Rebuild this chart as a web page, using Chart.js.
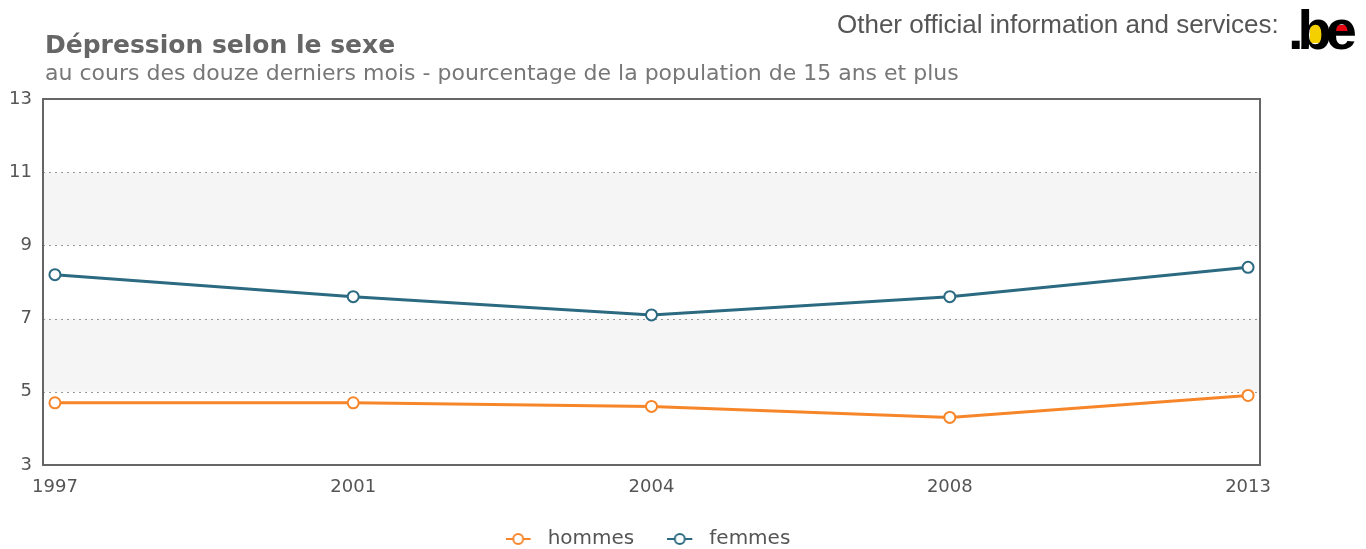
<!DOCTYPE html>
<html>
<head>
<meta charset="utf-8">
<script src="https://cdn.jsdelivr.net/npm/chart.js@4"></script>
<style>
  body { margin: 0; background: #fff; }
  #wrap { position: relative; width: 1366px; height: 549px; overflow: hidden; }
  #chart { position: absolute; left: 0; top: 0; }
  .title { position: absolute; left: 45px; top: 30px; font: bold 25px "DejaVu Sans", Verdana, sans-serif; color: #666; }
  .subtitle { position: absolute; left: 45px; top: 60px; font: 22px "DejaVu Sans", Verdana, sans-serif; color: #777; }
  .other { position: absolute; left: 837px; top: 9px; font: 26px "Liberation Sans", Arial, sans-serif; color: #555; }
  .logo { position: absolute; z-index: 1; left: 1288px; top: -3px; font: bold 56px "Liberation Sans", Arial, sans-serif; color: #000; letter-spacing: -6px; line-height: normal; }
  .logo .y { position: absolute; left: 22px; top: 27px; width: 13px; height: 19px; background: #f5d000; z-index: -1; }
  .logo .r { position: absolute; left: 46px; top: 28px; width: 14px; height: 7px; background: #e30613; z-index: -1; }
</style>
</head>
<body>
<div id="wrap">
  <canvas id="chart" width="1366" height="549"></canvas>
  <div class="title">Dépression selon le sexe</div>
  <div class="subtitle">au cours des douze derniers mois - pourcentage de la population de 15 ans et plus</div>
  <div class="other">Other official information and services:</div>
  <div class="logo"><span class="y"></span><span class="r"></span>.be</div>
</div>
<script>
const years = ['1997', '2001', '2004', '2008', '2013'];
const hommes = [4.7, 4.7, 4.6, 4.3, 4.9];
const femmes = [8.2, 7.6, 7.1, 7.6, 8.4];
const yTicks = [3, 5, 7, 9, 11, 13];
const bands = [[5, 7], [9, 11]];

const orange = '#f7862a';
const teal = '#2b6a80';

// line + circle symbol for the legend, drawn on the left 25px of a 32px box
function legendIcon(color) {
    const c = document.createElement('canvas');
    c.width = 32; c.height = 14;
    const ctx = c.getContext('2d');
    ctx.strokeStyle = color;
    ctx.lineWidth = 2;
    ctx.beginPath();
    ctx.moveTo(0, 7); ctx.lineTo(25, 7);
    ctx.stroke();
    ctx.fillStyle = '#fff';
    ctx.beginPath();
    ctx.arc(12.5, 7, 5, 0, Math.PI * 2);
    ctx.fill();
    ctx.stroke();
    return c;
}

const bgPlugin = {
    id: 'bg',
    beforeDatasetsDraw(chart) {
        const { ctx, chartArea, scales } = chart;
        ctx.save();
        ctx.fillStyle = '#f5f5f5';
        bands.forEach(b => {
            const top = scales.y.getPixelForValue(b[1]);
            const bottom = scales.y.getPixelForValue(b[0]);
            ctx.fillRect(chartArea.left, top, chartArea.right - chartArea.left, bottom - top);
        });
        // dotted grid lines
        ctx.strokeStyle = '#999';
        ctx.lineWidth = 1;
        ctx.setLineDash([2, 4]);
        yTicks.slice(1, -1).forEach(v => {
            const y = Math.round(scales.y.getPixelForValue(v)) + 0.5;
            ctx.beginPath();
            ctx.moveTo(chartArea.left, y);
            ctx.lineTo(chartArea.right, y);
            ctx.stroke();
        });
        ctx.setLineDash([]);
        ctx.strokeStyle = '#666';
        ctx.lineWidth = 2;
        ctx.strokeRect(chartArea.left, chartArea.top, chartArea.right - chartArea.left, chartArea.bottom - chartArea.top);
        ctx.restore();
    }
};

const makeSet = (label, values, color) => ({
    label: label,
    data: values.map((v, i) => ({ x: i, y: v })),
    borderColor: color,
    backgroundColor: '#fff',
    borderWidth: 3,
    pointRadius: 5.5,
    pointBorderWidth: 2,
    pointBackgroundColor: '#fff',
    pointStyle: 'circle',
    tension: 0
});

const myChart = new Chart(document.getElementById('chart'), {
    type: 'line',
    data: {
        datasets: [makeSet('hommes', hommes, orange), makeSet('femmes', femmes, teal)]
    },
    options: {
        responsive: false,
        animation: false,
        layout: { padding: { top: 99, right: 70, left: 0, bottom: -10 } },
        scales: {
            x: {
                type: 'linear',
                min: -0.04,
                max: 4.04,
                afterBuildTicks: axis => { axis.ticks = years.map((y, i) => ({ value: i })); },
                afterFit: axis => { axis.height = 31; },
                ticks: {
                    callback: v => years[v],
                    color: '#555',
                    font: { family: 'DejaVu Sans', size: 18 },
                    padding: 4,
                    maxRotation: 0
                },
                grid: { display: false },
                border: { display: false }
            },
            y: {
                min: 3,
                max: 13,
                afterBuildTicks: axis => { axis.ticks = yTicks.map(v => ({ value: v })); },
                afterFit: axis => { axis.width = 43; },
                ticks: {
                    color: '#555',
                    font: { family: 'DejaVu Sans', size: 18 },
                    padding: 3
                },
                grid: { display: false },
                border: { display: false }
            },
            // empty right-hand spacer so the legend centres under the plot
            spacer: {
                type: 'linear',
                position: 'right',
                afterFit: axis => { axis.width = 36; },
                ticks: { display: false },
                grid: { display: false },
                border: { display: false }
            }
        },
        plugins: {
            legend: {
                position: 'bottom',
                labels: {
                    usePointStyle: true,
                    pointStyleWidth: 32,
                    generateLabels: chart => chart.data.datasets.map((ds, i) => ({
                        text: ds.label,
                        pointStyle: legendIcon(ds.borderColor),
                        fontColor: '#555',
                        datasetIndex: i,
                        lineWidth: 0
                    })),
                    font: { family: 'DejaVu Sans', size: 20 },
                    color: '#555',
                    padding: 33
                }
            },
            tooltip: { enabled: false }
        }
    },
    plugins: [bgPlugin]
});
</script>
</body>
</html>
